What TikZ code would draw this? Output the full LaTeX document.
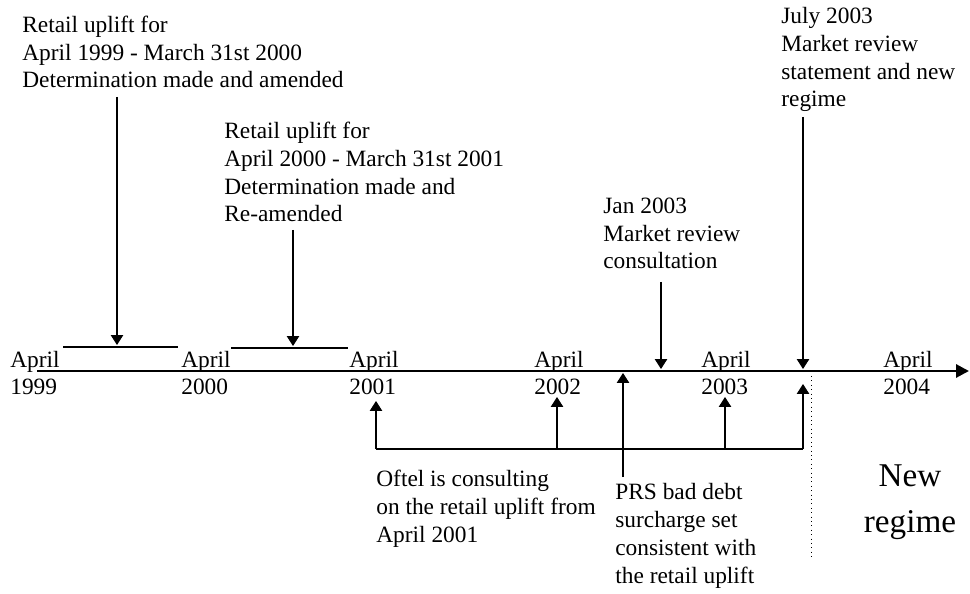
\documentclass[tikz,border=0pt]{standalone}
\usepackage{fontspec}
\setmainfont{Liberation Serif}
\usepackage{tikz}
\usetikzlibrary{arrows.meta,positioning}
\tikzset{
  note/.style={anchor=base west, align=left, inner sep=0pt, font=\fontsize{13.3}{15.9}\selectfont},
  yearlbl/.style={note},
  bignote/.style={anchor=base, align=center, inner sep=0pt, font=\fontsize{18.9}{26.1}\selectfont},
  axisline/.style={line width=1.7pt, -{Triangle[length=7.4pt, width=7.4pt]}},
  bracket/.style={line width=0.6pt},
  pointer/.style={line width=0.6pt, -{Triangle[length=5.6pt, width=7pt]}},
  divider/.style={line width=0.5pt, dotted},
}

\begin{document}
\begin{tikzpicture}[x=0.02cm, y=-0.02cm]
  \useasboundingbox (0,0) rectangle (970,594);
  % time axis (labels sit on the baseline of their last line)
  \coordinate (ax0) at (37,371);
  \coordinate (ax1) at (969,371);
  \draw[axisline] (ax0) -- (ax1);
  \node[yearlbl] (y99) at (10,395) {April\\1999};
  \node[yearlbl] (y00) at (181,395) {April\\2000};
  \node[yearlbl] (y01) at (349,395) {April\\2001};
  \node[yearlbl] (y02) at (534,395) {April\\2002};
  \node[yearlbl] (y03) at (701,395) {April\\2003};
  \node[yearlbl] (y04) at (883,395) {April\\2004};
  % notes above the axis
  \node[note] (det99) at (22,88) {Retail uplift for\\April 1999 - March 31st 2000\\Determination made and amended};
  \node[note] (det00) at (224,222) {Retail uplift for\\April 2000 - March 31st 2001\\Determination made and\\Re-amended};
  \node[note] (jan03) at (603,269) {Jan 2003\\Market review\\consultation};
  \node[note] (jul03) at (781,107) {July 2003\\Market review\\statement and new\\regime};
  % notes below the axis
  \node[note] (oftel) at (376,542) {Oftel is consulting\\on the retail uplift from\\April 2001};
  \node[note] (prs) at (615,583) {PRS bad debt\\surcharge set\\consistent with\\the retail uplift};
  \node[bignote] (newreg) at (910,532) {New\\regime};
  % determination periods
  \coordinate (p99a) at (63,347);
  \coordinate (p99b) at (178,347);
  \coordinate (p00a) at (231,348);
  \coordinate (p00b) at (348,348);
  \draw[bracket] (p99a) -- (p99b);
  \draw[bracket] (p00a) -- (p00b);
  \coordinate (s99) at (117,97);
  \coordinate (e99) at (117,345);
  \coordinate (s00) at (293,230);
  \coordinate (e00) at (293,346);
  \draw[pointer] (s99) -- (e99);
  \draw[pointer] (s00) -- (e00);
  \coordinate (sjan) at (661,282);
  \coordinate (ejan) at (661,369);
  \coordinate (sjul) at (803,117);
  \coordinate (ejul) at (803,369);
  \draw[pointer] (sjan) -- (ejan);
  \draw[pointer] (sjul) -- (ejul);
  % consultation span
  \coordinate (c01) at (376,449);
  \coordinate (c02) at (557,449);
  \coordinate (c03) at (725,449);
  \coordinate (cjul) at (803,449);
  \draw[bracket] (c01) -- (cjul);
  \coordinate (u01) at (376,401);
  \coordinate (u02) at (557,397);
  \coordinate (u03) at (725,397);
  \coordinate (ujul) at (803,384);
  \draw[pointer] (c01) -- (u01);
  \draw[pointer] (c02) -- (u02);
  \draw[pointer] (c03) -- (u03);
  \draw[pointer] (cjul) -- (ujul);
  \coordinate (sprs) at (623,477);
  \coordinate (eprs) at (623,373);
  \draw[pointer] (sprs) -- (eprs);
  % new regime divider
  \coordinate (d0) at (811,376);
  \coordinate (d1) at (811,560);
  \draw[divider] (d0) -- (d1);
\end{tikzpicture}
\end{document}
